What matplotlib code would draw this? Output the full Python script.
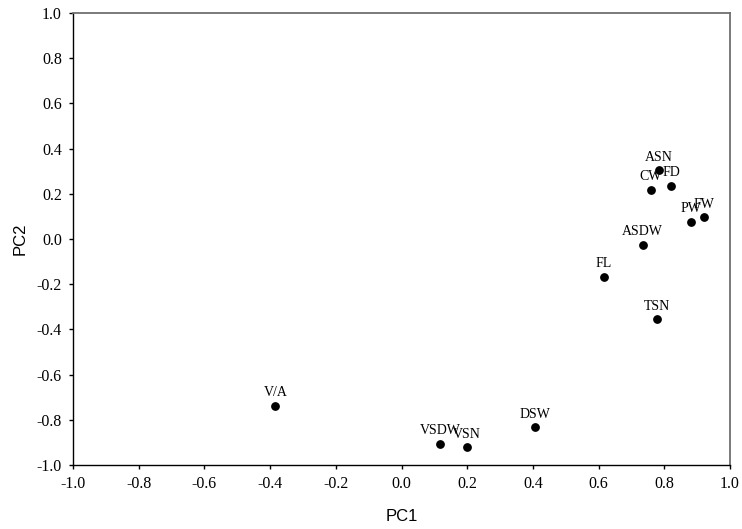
import numpy as np
import matplotlib
matplotlib.use('Agg')
import matplotlib.pyplot as plt

# PCA loadings
names = ['ASN', 'CW', 'FD', 'PW', 'FW', 'ASDW', 'FL', 'TSN', 'V/A', 'VSDW', 'VSN', 'DSW']
pc1 = [0.783, 0.759, 0.821, 0.880, 0.920, 0.734, 0.616, 0.777, -0.384, 0.118, 0.198, 0.405]
pc2 = [0.304, 0.218, 0.234, 0.077, 0.096, -0.025, -0.168, -0.355, -0.739, -0.908, -0.922, -0.833]

ticks = np.round(np.arange(-1.0, 1.01, 0.2), 1)
tick_labels = ['%.1f' % (t + 0.0) for t in ticks]

fig = plt.figure(figsize=(7.42, 5.29), dpi=100)
ax = fig.add_axes([73/742, 1 - 465/529, (730-73)/742, (465-13)/529])

ax.scatter(pc1, pc2, s=28, color='black', zorder=3)
for n, x, y in zip(names, pc1, pc2):
    ax.annotate(n, (x, y), xytext=(0, 7), textcoords='offset points',
                ha='center', va='baseline', fontsize=10, family='Liberation Serif')

ax.set_xlim(-1, 1)
ax.set_ylim(-1, 1)
ax.set_xticks(ticks)
ax.set_yticks(ticks)
ax.set_xticklabels(tick_labels, family='Liberation Serif', fontsize=11.5)
ax.set_yticklabels(tick_labels, family='Liberation Serif', fontsize=11.5)
ax.tick_params(direction='out', length=3, width=1, pad=5)

for s in ['top', 'right']:
    ax.spines[s].set_color('#707070')
    ax.spines[s].set_linewidth(1.3)
for s in ['left', 'bottom']:
    ax.spines[s].set_linewidth(1.0)

ax.set_xlabel('PC1', family='Liberation Sans', fontsize=12, va='center')
ax.set_ylabel('PC2', family='Liberation Sans', fontsize=12, va='center')
ax.xaxis.set_label_coords(0.5, -0.115)
ax.yaxis.set_label_coords(-0.081, 0.5)

fig.savefig('out.png', dpi=100)
